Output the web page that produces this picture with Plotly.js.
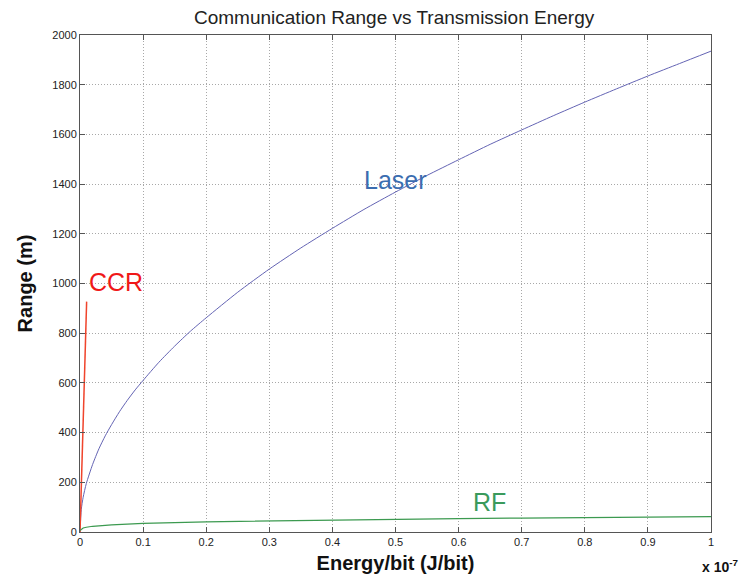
<!DOCTYPE html>
<html>
<head>
<meta charset="utf-8">
<script src="https://cdn.plot.ly/plotly-3.0.1.min.js"></script>
<style>html,body{margin:0;padding:0;background:#fff;}#chart{width:745px;height:588px;}</style>
</head>
<body>
<div id="chart"></div>
<script>
// Energy per bit (x 10^-7 J/bit)
const laserEnergy = [0, 0.002, 0.005, 0.01, 0.02, 0.03, 0.04, 0.05, 0.0625, 0.075, 0.0875, 0.1, 0.125, 0.15, 0.175, 0.2, 0.25, 0.3, 0.35, 0.4, 0.45, 0.5, 0.55, 0.6, 0.65, 0.7, 0.75, 0.8, 0.85, 0.9, 0.95, 1.0];
const laserRange  = [0, 90, 140, 195, 272, 335, 387, 432, 484, 530, 572, 610, 683, 748, 808, 862, 965, 1058, 1143, 1222, 1298, 1368, 1435, 1498, 1560, 1618, 1675, 1730, 1783, 1835, 1885, 1935];

const ccrEnergy = [0, 0.0105];
const ccrRange  = [0, 927];

const rfEnergy = [0, 0.005, 0.01, 0.02, 0.05, 0.1, 0.2, 0.3, 0.4, 0.5, 0.6, 0.7, 0.8, 0.9, 1.0];
const rfRange  = [6, 16, 19, 23, 29, 35, 41, 45, 48, 51, 54, 56, 58, 60, 62];

const xTicks = [0, 0.1, 0.2, 0.3, 0.4, 0.5, 0.6, 0.7, 0.8, 0.9, 1];
const xTickText = ['0', '0.1', '0.2', '0.3', '0.4', '0.5', '0.6', '0.7', '0.8', '0.9', '1'];
const yTicks = [0, 200, 400, 600, 800, 1000, 1200, 1400, 1600, 1800, 2000];

const traces = [
  {x: laserEnergy, y: laserRange, mode: 'lines', line: {color: '#6464b4', width: 1, shape: 'spline', smoothing: 0.6}, name: 'Laser', hoverinfo: 'skip'},
  {x: ccrEnergy, y: ccrRange, mode: 'lines', line: {color: '#f0442c', width: 1.5}, name: 'CCR', hoverinfo: 'skip'},
  {x: rfEnergy, y: rfRange, mode: 'lines', line: {color: '#3c9a50', width: 1.2}, name: 'RF', hoverinfo: 'skip'}
];

const axisCommon = {
  showline: true, linecolor: '#555', linewidth: 1, mirror: 'ticks',
  ticks: 'inside', ticklen: 5, tickcolor: '#555',
  showgrid: true, gridcolor: '#a8a8a8', griddash: '1px,2px', gridwidth: 1,
  zeroline: false,
  tickfont: {family: 'Arial, Liberation Sans, sans-serif', size: 11, color: '#222'}
};

const labelFont = 'Arial, Liberation Sans, sans-serif';

const layout = {
  width: 745, height: 588,
  margin: {l: 80, r: 34, t: 35, b: 56},
  paper_bgcolor: '#fff', plot_bgcolor: '#fff',
  showlegend: false,
  title: {text: 'Communication Range vs Transmission Energy', x: 0.529, xanchor: 'center', y: 0.971, yanchor: 'middle',
          font: {family: labelFont, size: 19, color: '#222'}},
  xaxis: Object.assign({}, axisCommon, {
    range: [0, 1], tickvals: xTicks, ticktext: xTickText,
    title: {text: '<b>Energy/bit (J/bit)</b>', standoff: 8,
            font: {family: labelFont, size: 20, color: '#111'}}
  }),
  yaxis: Object.assign({}, axisCommon, {
    range: [0, 2000], tickvals: yTicks,
    title: {text: '<b>Range (m)</b>', standoff: 14,
            font: {family: labelFont, size: 20, color: '#111'}}
  }),
  annotations: [
    {x: 0.4992, y: 1418, xref: 'x', yref: 'y', text: 'Laser', showarrow: false,
     font: {family: labelFont, size: 25, color: '#3b6db0'}},
    {x: 0.0575, y: 1007, xref: 'x', yref: 'y', text: 'CCR', showarrow: false,
     font: {family: labelFont, size: 25, color: '#f01818'}},
    {x: 0.649, y: 121, xref: 'x', yref: 'y', text: 'RF', showarrow: false,
     font: {family: labelFont, size: 25, color: '#3a9a5c'}},
    {x: 0, y: 0, xref: 'paper', yref: 'paper', text: '<b>x 10<sup>-7</sup></b>', showarrow: false,
     xanchor: 'right', yanchor: 'middle',
     font: {family: labelFont, size: 14, color: '#111'}}
  ]
};
// convert pixel position of the exponent label to paper coords
layout.annotations[3].x = (741 - 80) / (745 - 80 - 34);
layout.annotations[3].y = -(566 - 532) / (532 - 35);

Plotly.newPlot('chart', traces, layout, {staticPlot: true});
</script>
</body>
</html>
